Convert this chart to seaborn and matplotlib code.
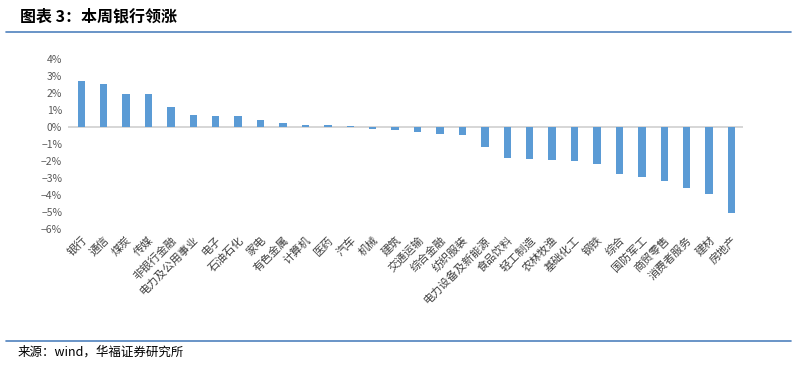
# Weekly industry returns: bank sector leads

import matplotlib
matplotlib.use('Agg')
import matplotlib.pyplot as plt
import pandas as pd
import seaborn as sns
from matplotlib.ticker import FuncFormatter
from matplotlib.lines import Line2D

industries = ['银行', '通信', '煤炭', '传媒', '非银行金融', '电力及公用事业', '电子',
              '石油石化', '家电', '有色金属', '计算机', '医药', '汽车', '机械', '建筑',
              '交通运输', '综合金融', '纺织服装', '电力设备及新能源', '食品饮料',
              '轻工制造', '农林牧渔', '基础化工', '钢铁', '综合', '国防军工',
              '商贸零售', '消费者服务', '建材', '房地产']
weekly_return = [2.73, 2.55, 1.96, 1.94, 1.20, 0.73, 0.67, 0.67, 0.43, 0.24,
                 0.14, 0.14, 0.07, -0.13, -0.18, -0.28, -0.39, -0.49, -1.18, -1.82,
                 -1.88, -1.94, -2.02, -2.14, -2.75, -2.96, -3.14, -3.57, -3.94, -5.06]
y_ticks = [4, 3, 2, 1, 0, -1, -2, -3, -4, -5, -6]

df = pd.DataFrame({'industry': industries, 'ret': weekly_return})

sns.set_style('white')
plt.rcParams['font.family'] = ['Noto Sans CJK SC', 'DejaVu Sans']
plt.rcParams['axes.unicode_minus'] = True

fig = plt.figure(figsize=(7.97, 3.72), dpi=100)
ax = fig.add_axes([0.085, 0.384, 0.847, 0.457])

sns.barplot(data=df, x='industry', y='ret', color='#5B9BD5', width=0.33,
            saturation=1, linewidth=0, ax=ax)

ax.axhline(0, color='#D0D0D0', lw=1.2, zorder=0)
ax.set_ylim(-6, 4)
ax.set_xlim(-0.6, len(industries) - 0.5)
ax.set_yticks(y_ticks)
ax.yaxis.set_major_formatter(FuncFormatter(lambda v, p: f'{int(v)}%'.replace('-', '\u2212')))
ax.tick_params(axis='y', labelsize=7.5, colors='#595959', length=0, pad=4)
ax.tick_params(axis='x', labelsize=8, colors='#404040', length=0, pad=4)
ax.set_xticks(range(len(industries)))
ax.set_xticklabels(industries, rotation=45, ha='right', rotation_mode='anchor')
ax.set_xlabel('')
ax.set_ylabel('')
sns.despine(ax=ax, left=True, bottom=True)

# Header and footer
fig.text(0.025, 0.955, '图表 3：本周银行领涨', fontsize=11.5, fontweight='bold',
         va='center', ha='left', color='black')
fig.add_artist(Line2D([0.008, 0.992], [0.914, 0.914], color='#4F81BD', lw=1.2))
fig.add_artist(Line2D([0.008, 0.992], [0.083, 0.083], color='#4F81BD', lw=1.2))
fig.text(0.022, 0.052, '来源：wind，华福证券研究所', fontsize=9, va='center',
         ha='left', color='black')

plt.savefig('out.png', dpi=100)
plt.close()
